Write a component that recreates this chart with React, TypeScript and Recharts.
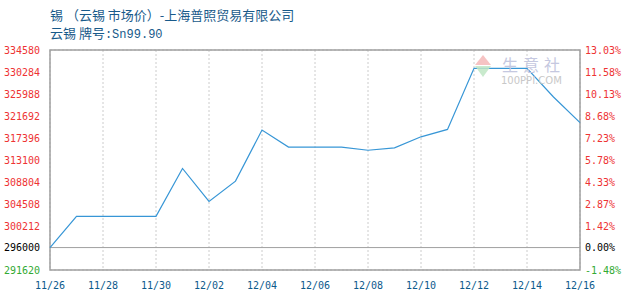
import React from "react";
import {
  LineChart,
  Line,
  XAxis,
  YAxis,
  CartesianGrid,
  ReferenceLine,
  ReferenceArea,
} from "recharts";

const dates = [
  "11/26", "11/27", "11/28", "11/29", "11/30", "12/01", "12/02", "12/03", "12/04", "12/05", "12/06",
  "12/07", "12/08", "12/09", "12/10", "12/11", "12/12", "12/13", "12/14", "12/15", "12/16",
];
const prices = [
  296000, 302100, 302100, 302100, 302100, 311450, 305000, 308970, 318940, 315620, 315620,
  315620, 315000, 315480, 317630, 319080, 331000, 331000, 331000, 325400, 320400,
];
const basePrice = 296000;
const leftTicks = [291620, 296000, 300212, 304508, 308804, 313100, 317396, 321692, 325988, 330284, 334580];
const rightTickLabels = ["-1.48%", "0.00%", "1.42%", "2.87%", "4.33%", "5.78%", "7.23%", "8.68%", "10.13%", "11.58%", "13.03%"];
const xTickIndexes = [0, 2, 4, 6, 8, 10, 12, 14, 16, 18, 20];
const titleLine1 = "锡 （云锡 市场价）-上海普照贸易有限公司";
const titleLine2Cjk = "云锡 牌号";
const titleLine2Ascii = ":Sn99.90";

const data = dates.map((d, i) => ({ idx: i, date: d, price: prices[i] }));

const MONO = "'DejaVu Sans Mono', 'Liberation Mono', monospace";
const colorFor = (v: number) => (v > basePrice ? "#ee3333" : v < basePrice ? "#33aa33" : "#000000");

const LeftTick = (props: any) => {
  const { x, y, payload } = props;
  return (
    <text x={x} y={y} dy={3.5} textAnchor="end" fontSize={10} fontFamily={MONO} fill={colorFor(payload.value)}>
      {payload.value}
    </text>
  );
};

const RightTick = (props: any) => {
  const { x, y, payload } = props;
  const i = leftTicks.indexOf(payload.value);
  return (
    <text x={x} y={y} dy={3.5} textAnchor="start" fontSize={10} fontFamily={MONO} fill={colorFor(payload.value)}>
      {rightTickLabels[i]}
    </text>
  );
};

const XTick = (props: any) => {
  const { x, y, payload } = props;
  return (
    <text x={x} y={y} dy={11} textAnchor="middle" fontSize={10} fontFamily={MONO} fill="#0d5a8c">
      {dates[payload.value]}
    </text>
  );
};

export default function App() {
  return (
    <div style={{ position: "absolute", left: 0, top: 0, width: 630, height: 300, background: "#fff" }}>
      <div
        style={{
          position: "absolute",
          left: 50,
          top: 6,
          fontFamily: "'Noto Sans CJK SC', sans-serif",
          fontSize: 13,
          lineHeight: "18px",
          color: "#185a8a",
          whiteSpace: "pre",
        }}
      >
        <div>{titleLine1}</div>
        <div>
          {titleLine2Cjk}
          <span style={{ fontFamily: "'Liberation Mono', monospace", fontSize: 12 }}>{titleLine2Ascii}</span>
        </div>
      </div>
      <LineChart width={630} height={300} data={data} margin={{ top: 50, right: 0, left: 0, bottom: 0 }}>
        <CartesianGrid stroke="#cccccc" strokeDasharray="2 2" />
        <XAxis
          dataKey="idx"
          type="number"
          domain={[0, 20]}
          ticks={xTickIndexes}
          height={30}
          tickLine={false}
          axisLine={false}
          tickSize={0}
          tickMargin={8}
          tick={<XTick />}
        />
        <YAxis
          yAxisId="left"
          orientation="left"
          type="number"
          domain={[leftTicks[0], leftTicks[leftTicks.length - 1]]}
          ticks={leftTicks}
          interval={0}
          width={50}
          tickLine={false}
          axisLine={false}
          tickSize={0}
          tickMargin={10}
          tick={<LeftTick />}
        />
        <YAxis
          yAxisId="right"
          orientation="right"
          type="number"
          domain={[leftTicks[0], leftTicks[leftTicks.length - 1]]}
          ticks={leftTicks}
          interval={0}
          width={50}
          tickLine={false}
          axisLine={false}
          tickSize={0}
          tickMargin={5}
          tick={<RightTick />}
        />
        <ReferenceLine yAxisId="left" y={basePrice} stroke="#a0a0a0" strokeWidth={1} />
        <ReferenceArea
          yAxisId="left"
          x1={0}
          x2={20}
          y1={leftTicks[0]}
          y2={leftTicks[leftTicks.length - 1]}
          fill="none"
          stroke="#a0a0a0"
          strokeWidth={1.5}
          ifOverflow="visible"
        />
        <Line
          yAxisId="left"
          type="linear"
          dataKey="price"
          stroke="#3796d6"
          strokeWidth={1.2}
          dot={false}
          isAnimationActive={false}
        />
        <Line
          yAxisId="right"
          type="linear"
          dataKey="price"
          stroke="none"
          dot={false}
          legendType="none"
          isAnimationActive={false}
        />
      </LineChart>
      <svg style={{ position: "absolute", left: 0, top: 0, pointerEvents: "none" }} width={630} height={300}>
        <polygon points="475,65 483,55 491,65" fill="#f4b8b8" opacity={0.85} />
        <polygon points="475,66 491,66 483,77" fill="#bfe6c4" opacity={0.85} />
        <text x={502} y={71} fontSize={16} fontFamily="'Noto Sans CJK SC', sans-serif" fill="#c5c8e0" letterSpacing={5}>
          生意社
        </text>
        <text x={501} y={84} fontSize={10} fontFamily="'DejaVu Sans', sans-serif" fill="#c8c8c8">
          100PPI.COM
        </text>
      </svg>
    </div>
  );
}
